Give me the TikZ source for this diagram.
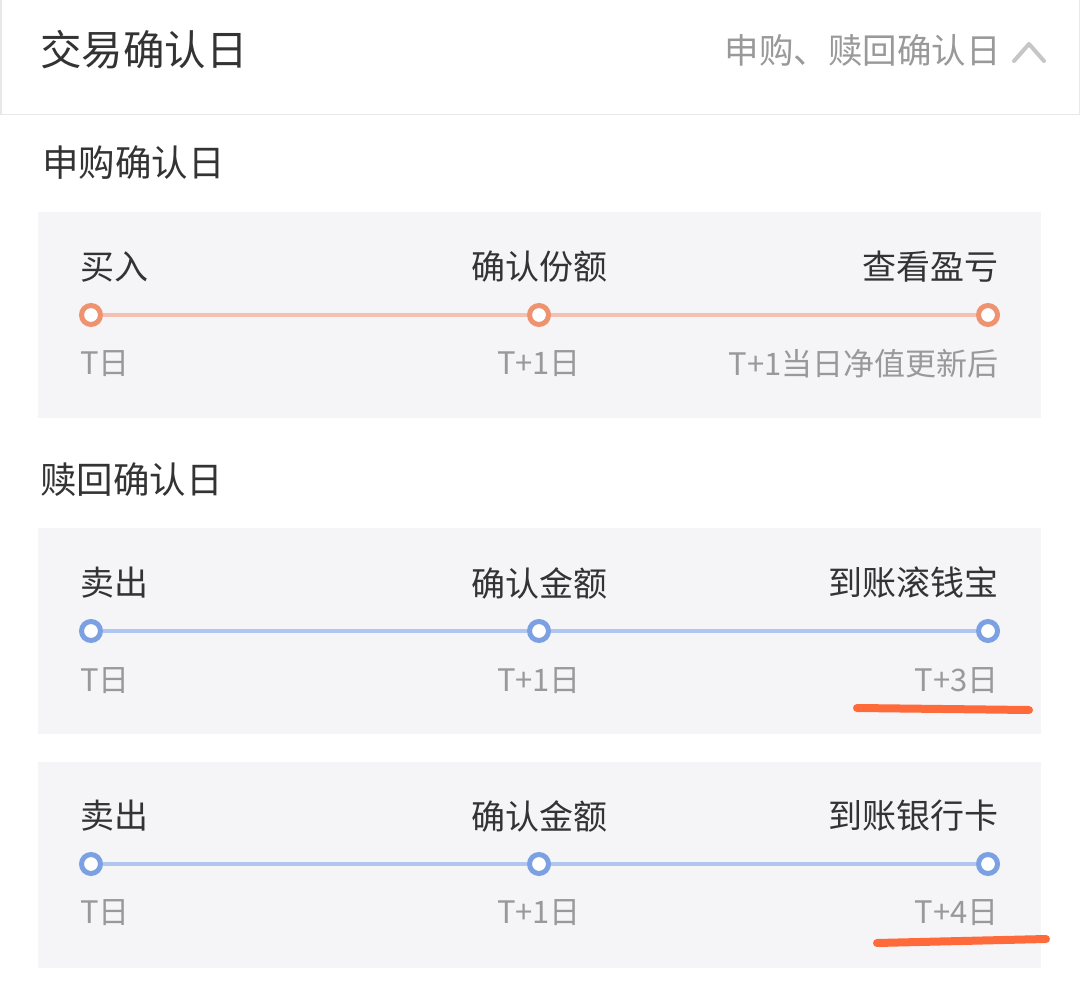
\documentclass[tikz,border=0pt]{standalone}
\usepackage{fontspec}
\setmainfont{Noto Sans CJK SC}
\usetikzlibrary{positioning}

\definecolor{txtdark}{HTML}{333333}
\definecolor{txtgray}{HTML}{999999}
\definecolor{panelbg}{HTML}{F5F5F7}
\definecolor{buyring}{HTML}{EE9270}
\definecolor{buyline}{HTML}{F3C0B1}
\definecolor{sellring}{HTML}{7CA1E2}
\definecolor{sellline}{HTML}{AFC6EE}
\definecolor{markred}{HTML}{FF6A3A}

\tikzset{
  dot/.style={draw, circle, fill=white, line width=5pt, minimum size=19pt, inner sep=0pt},
  step label/.style={font=\fontsize{34}{34}\selectfont, text=txtdark, inner sep=0pt},
  day label/.style={font=\fontsize{31}{31}\selectfont, text=txtgray, inner sep=0pt},
  panel/.style={fill=panelbg, draw=none},
  mark stroke/.style={draw=markred, line width=8pt, line cap=round}
}

\begin{document}
\begin{tikzpicture}[x=1pt, y=-1pt]
  \useasboundingbox (0,0) rectangle (1080,984);
  \fill[white] (0,0) rectangle (1080,984);

  % header
  \draw[gray!18, line width=1.5pt] (0.75,-2) rectangle (1079.25,114.5);
  \node [anchor=west, inner sep=0pt, text=txtdark, font=\fontsize{41.5}{41.5}\selectfont] at (40,50) (title) {交易确认日};
  \node [anchor=east, inner sep=0pt, text=txtgray, font=\fontsize{34.5}{34.5}\selectfont] at (1001,50) (toggle) {申购、赎回确认日};
  \coordinate (chevL) at (1014,61);
  \coordinate (chevT) at (1029,44);
  \coordinate (chevR) at (1044,61);
  \draw[gray!45, line width=4pt, line cap=round, line join=round] (chevL) -- (chevT) -- (chevR);

  % subscription
  \node [anchor=west, inner sep=0pt, text=txtdark, font=\fontsize{36.5}{36.5}\selectfont] at (42,163) (buyhead) {申购确认日};
  \fill[panel] (38,212) rectangle (1041,418);

  \node [dot, draw=buyring] at (91,315) (b1) {};
  \node [dot, draw=buyring] at (539,315) (b2) {};
  \node [dot, draw=buyring] at (988,315) (b3) {};

  \node [step label, anchor=west] at (80,267) (bt1) {买入};
  \node [step label] at (539,267) (bt2) {确认份额};
  \node [step label, anchor=east] at (999,267) (bt3) {查看盈亏};

  \node [day label, anchor=west] at (80,364) (bd1) {T日};
  \node [day label] at (539,364) (bd2) {T+1日};
  \node [day label, anchor=east] at (999,364) (bd3) {T+1当日净值更新后};

  \draw[buyline, line width=4pt] (b1) -- (b2);
  \draw[buyline, line width=4pt] (b2) -- (b3);

  % redemption
  \node [anchor=west, inner sep=0pt, text=txtdark, font=\fontsize{36.5}{36.5}\selectfont] at (40,480) (sellhead) {赎回确认日};
  \fill[panel] (38,528) rectangle (1041,734);
  \fill[panel] (38,762) rectangle (1041,968);

  \node [dot, draw=sellring] at (91,631) (r1) {};
  \node [dot, draw=sellring] at (539,631) (r2) {};
  \node [dot, draw=sellring] at (988,631) (r3) {};

  \node [step label, anchor=west] at (80,583) (rt1) {卖出};
  \node [step label] at (539,583) (rt2) {确认金额};
  \node [step label, anchor=east] at (999,583) (rt3) {到账滚钱宝};

  \node [day label, anchor=west] at (80,681) (rd1) {T日};
  \node [day label] at (539,681) (rd2) {T+1日};
  \node [day label, anchor=east] at (999,681) (rd3) {T+3日};

  \draw[sellline, line width=4pt] (r1) -- (r2);
  \draw[sellline, line width=4pt] (r2) -- (r3);

  \node [dot, draw=sellring] at (91,864) (k1) {};
  \node [dot, draw=sellring] at (539,864) (k2) {};
  \node [dot, draw=sellring] at (988,864) (k3) {};

  \node [step label, anchor=west] at (80,816) (kt1) {卖出};
  \node [step label] at (539,816) (kt2) {确认金额};
  \node [step label, anchor=east] at (999,816) (kt3) {到账银行卡};

  \node [day label, anchor=west] at (80,913) (kd1) {T日};
  \node [day label] at (539,913) (kd2) {T+1日};
  \node [day label, anchor=east] at (999,913) (kd3) {T+4日};

  \draw[sellline, line width=4pt] (k1) -- (k2);
  \draw[sellline, line width=4pt] (k2) -- (k3);

  % hand marks
  \coordinate (m1a) at (857,708);
  \coordinate (m1b) at (1029,710);
  \coordinate (m2a) at (877,943);
  \coordinate (m2b) at (1046,939);
  \draw[mark stroke] (m1a) -- (m1b);
  \draw[mark stroke] (m2a) -- (m2b);

\end{tikzpicture}
\end{document}
